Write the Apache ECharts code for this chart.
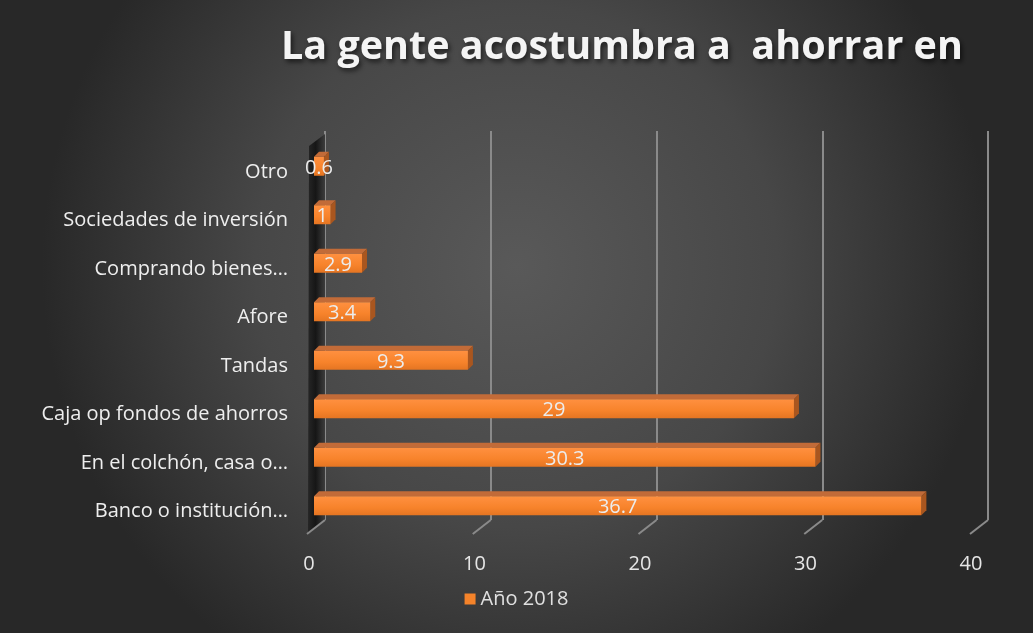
<!DOCTYPE html>
<html><head><meta charset="utf-8">
<script src="https://cdn.jsdelivr.net/npm/echarts@6/dist/echarts.min.js"></script>
<style>html,body{margin:0;padding:0;background:#333}#c{width:1033px;height:633px}</style>
</head><body><div id="c"></div>
<script>
const categories = ['Banco o institución…','En el colchón, casa o…','Caja op fondos de ahorros','Tandas','Afore','Comprando bienes…','Sociedades de inversión','Otro'];
const values2018 = [36.7, 30.3, 29, 9.3, 3.4, 2.9, 1, 0.6];
const xTicks = [0, 10, 20, 30, 40];
const seriesName = 'Año 2018';
const titleText = 'La gente acostumbra a  ahorrar en';

const FONT = '"Open Sans"';
const chart = echarts.init(document.getElementById('c'));

function barItem(params, api) {
  const v = api.value(0), c = api.value(1);
  const s = api.coord([0, c]), e = api.coord([v, c]);
  const h = 19, d = 5;
  const x0 = s[0], x1 = e[0], top = s[1] - h / 2;
  return {
    type: 'group',
    children: [
      { type: 'polygon', shape: { points: [[x0, top], [x0 + d, top - d], [x1 + d, top - d], [x1, top]] }, style: { fill: '#c26b38' } },
      { type: 'polygon', shape: { points: [[x1, top], [x1 + d, top - d], [x1 + d, top + h - d], [x1, top + h]] }, style: { fill: '#a9561f' } },
      { type: 'rect', shape: { x: x0, y: top, width: x1 - x0, height: h },
        style: { fill: new echarts.graphic.LinearGradient(0, 0, 0, 1, [
          { offset: 0, color: '#ff9040' }, { offset: 0.6, color: '#f7832b' }, { offset: 1, color: '#e57522' }]) } },
      { type: 'text', style: { text: String(v), x: (x0 + x1) / 2, y: s[1] + 2, align: 'center', verticalAlign: 'middle',
        fill: '#ececec', font: '20px ' + FONT } }
    ]
  };
}

function floorItem(params, api) {
  const v = api.value(0);
  const b = api.coord([v, 0]), t = api.coord([v, 1]);
  const children = [
    { type: 'line', shape: { x1: b[0], y1: b[1], x2: b[0] - 18, y2: b[1] + 14 }, style: { stroke: '#8a8a8a', lineWidth: 2 } }
  ];
  if (v === 0) {
    children.unshift({ type: 'polygon', shape: { points: [[t[0], t[1] + 3], [t[0] - 16, t[1] + 15], [b[0] - 17, b[1] + 14], [b[0], b[1]]] },
      style: { fill: new echarts.graphic.LinearGradient(0, 0, 1, 0, [
        { offset: 0, color: '#262626' }, { offset: 0.45, color: '#161616' }, { offset: 1, color: '#3c3c3c' }]) } });
  }
  return { type: 'group', children };
}

chart.setOption({
  backgroundColor: new echarts.graphic.RadialGradient(0.5, 0.42, 0.75, [
    { offset: 0, color: '#595959' }, { offset: 0.55, color: '#474747' }, { offset: 1, color: '#282828' }]),
  animation: false,
  title: {
    text: titleText, left: 276, top: 23,
    textStyle: { color: '#f4f4f4', fontFamily: FONT, fontWeight: 'bold', fontSize: 39.5,
      textShadowColor: 'rgba(0,0,0,0.6)', textShadowBlur: 5, textShadowOffsetX: 2, textShadowOffsetY: 3 }
  },
  legend: {
    data: [{ name: seriesName, icon: 'rect', itemStyle: { color: '#f5832a' } }],
    left: 'center', top: 584, itemWidth: 11, itemHeight: 11, itemGap: 6,
    textStyle: { color: '#e0e0e0', fontSize: 20, fontFamily: FONT }
  },
  grid: [
    { left: 314, right: 57, top: 142, bottom: 103 },
    { left: 325, right: 45, top: 131, bottom: 113 },
    { left: 314, right: 57, top: 148, bottom: 97 }
  ],
  xAxis: [
    { type: 'value', gridIndex: 0, min: 0, max: 40, interval: 10, splitLine: { show: false },
      axisLine: { show: false }, axisTick: { show: false },
      axisLabel: { color: '#e6e6e6', fontSize: 20, fontFamily: FONT, margin: 24, padding: [0, 10, 0, 0] } },
    { type: 'value', gridIndex: 1, min: 0, max: 40, interval: 10,
      splitLine: { show: true, lineStyle: { color: '#8a8a8a', width: 2 } },
      axisLine: { show: false }, axisTick: { show: false }, axisLabel: { show: false } },
    { type: 'value', gridIndex: 2, min: 0, max: 40, show: false }
  ],
  yAxis: [
    { type: 'category', gridIndex: 0, data: categories, show: false },
    { type: 'value', gridIndex: 1, min: 0, max: 1, show: false },
    { type: 'category', gridIndex: 2, data: categories, axisLine: { show: false }, axisTick: { show: false },
      axisLabel: { color: '#eeeeee', fontSize: 20, fontFamily: FONT, margin: 26 } }
  ],
  series: [
    { type: 'custom', name: 'floor', xAxisIndex: 1, yAxisIndex: 1, z: 1, silent: true,
      data: xTicks.map(t => [t]), encode: { x: 0 }, renderItem: floorItem },
    { type: 'custom', name: seriesName, xAxisIndex: 0, yAxisIndex: 0, z: 5,
      data: values2018.map((v, i) => [v, i]), encode: { x: 0, y: 1 }, renderItem: barItem }
  ]
});
</script></body></html>
